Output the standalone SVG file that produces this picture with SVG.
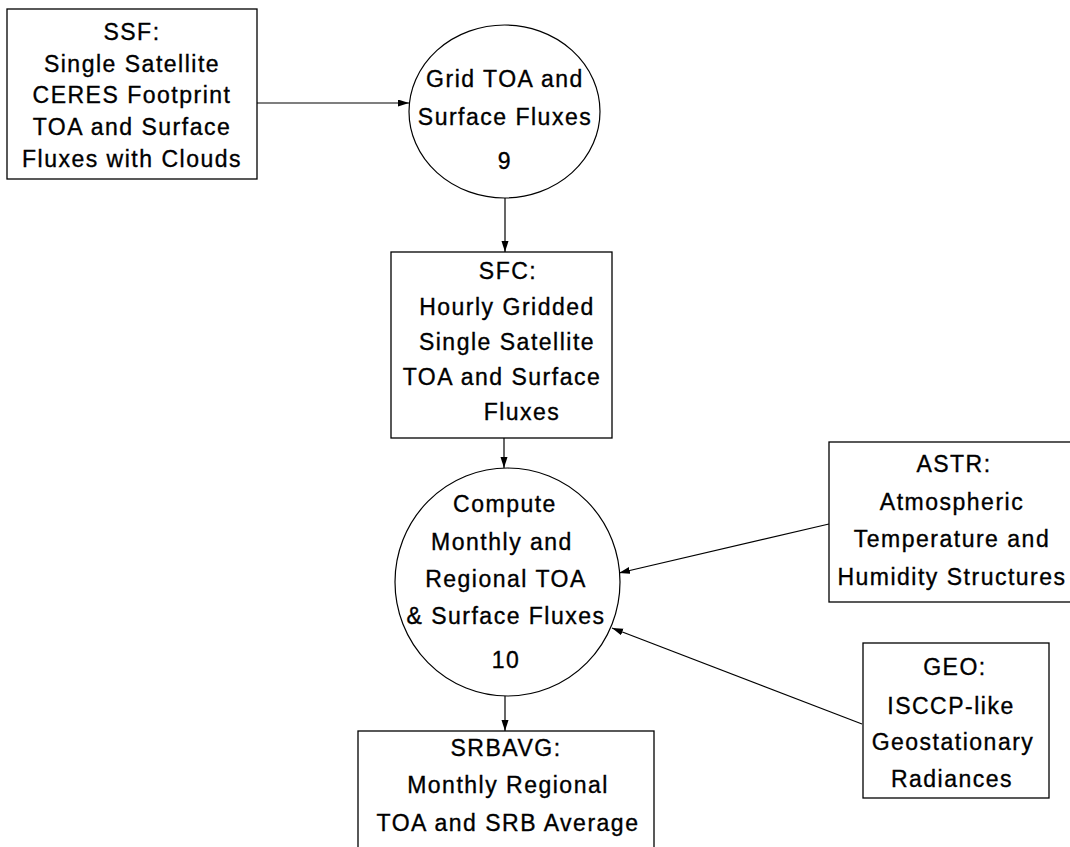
<svg xmlns="http://www.w3.org/2000/svg" width="1070" height="847" viewBox="0 0 1070 847">
<style>
.box{fill:#fff;stroke:#000;stroke-width:1.3}
.bub{fill:#fff;stroke:#000;stroke-width:1.2}
.edge{fill:none;stroke:#000;stroke-width:1.2}
text{font-family:"Liberation Sans",Arial,sans-serif;font-size:23px;letter-spacing:1.5px;fill:#000;stroke:#000;stroke-width:0.35;text-anchor:middle}
</style>
<defs>
<marker id="arr" markerUnits="userSpaceOnUse" markerWidth="12" markerHeight="8" refX="11" refY="3.5" orient="auto">
<path d="M0,0 L11,3.5 L0,7 z" fill="#000"/>
</marker>
</defs>
<rect width="1070" height="847" fill="#fff"/>
<g id="connectors">
<line class="edge" x1="257" y1="103" x2="409" y2="103" marker-end="url(#arr)"/>
<line class="edge" x1="505" y1="198" x2="505" y2="252" marker-end="url(#arr)"/>
<line class="edge" x1="504" y1="438" x2="504" y2="468" marker-end="url(#arr)"/>
<line class="edge" x1="505" y1="696" x2="505" y2="731" marker-end="url(#arr)"/>
<line class="edge" x1="829" y1="524" x2="619" y2="573" marker-end="url(#arr)"/>
<line class="edge" x1="862" y1="724" x2="612" y2="628" marker-end="url(#arr)"/>
</g>
<g id="ssf">
<rect class="box" x="7" y="9" width="250" height="170"/>
<text x="132" y="40">SSF:</text>
<text x="132" y="72">Single Satellite</text>
<text x="132" y="103">CERES Footprint</text>
<text x="132" y="135">TOA and Surface</text>
<text x="132" y="167">Fluxes with Clouds</text>
</g>
<g id="grid">
<ellipse class="bub" cx="504.5" cy="111.5" rx="95.5" ry="86.5"/>
<text x="505" y="87">Grid TOA and</text>
<text x="505" y="125">Surface Fluxes</text>
<text x="505" y="169">9</text>
</g>
<g id="sfc">
<rect class="box" x="391" y="252" width="221" height="186"/>
<text x="508" y="279">SFC:</text>
<text x="507" y="315">Hourly Gridded</text>
<text x="507" y="350">Single Satellite</text>
<text x="502" y="385">TOA and Surface</text>
<text x="522" y="420">Fluxes</text>
</g>
<g id="compute">
<ellipse class="bub" cx="507.5" cy="582" rx="112.5" ry="114"/>
<text x="505" y="512">Compute</text>
<text x="502" y="550">Monthly and</text>
<text x="506" y="587">Regional TOA</text>
<text x="506" y="624">&amp; Surface Fluxes</text>
<text x="506" y="668">10</text>
</g>
<g id="srbavg">
<rect class="box" x="358" y="731" width="296" height="130"/>
<text x="506" y="756">SRBAVG:</text>
<text x="508" y="793">Monthly Regional</text>
<text x="508" y="831">TOA and SRB Average</text>
</g>
<g id="astr">
<rect class="box" x="829" y="442" width="250" height="160"/>
<text x="954" y="472">ASTR:</text>
<text x="952" y="510">Atmospheric</text>
<text x="952" y="547">Temperature and</text>
<text x="952" y="585">Humidity Structures</text>
</g>
<g id="geo">
<rect class="box" x="863" y="643" width="186" height="155"/>
<text x="955" y="675">GEO:</text>
<text x="951" y="714">ISCCP-like</text>
<text x="953" y="750">Geostationary</text>
<text x="952" y="787">Radiances</text>
</g>
</svg>
